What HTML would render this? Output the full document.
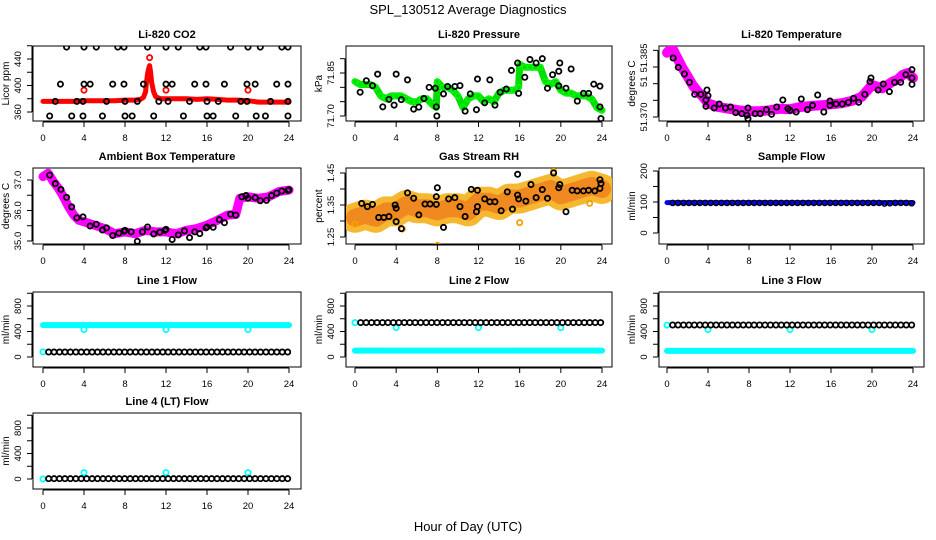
<!DOCTYPE html>
<html><head><meta charset="utf-8">
<style>
html,body{margin:0;padding:0;background:#fff;}
svg{display:block;font-family:"Liberation Sans",Arial,sans-serif;}
</style></head>
<body>
<svg id="chart" width="936" height="540" viewBox="0 0 936 540" xmlns="http://www.w3.org/2000/svg">
<rect x="0" y="0" width="936" height="540" fill="#fff"/>
<text x="468" y="14" text-anchor="middle" font-size="13">SPL_130512  Average Diagnostics</text>
<text x="468" y="531" text-anchor="middle" font-size="13">Hour of Day (UTC)</text>
</svg>
<script>
// ---- data ----
const hourTicks = [0,4,8,12,16,20,24];
// CO2
const co2T = [0,1,2,3,4,5,6,7,8,9,9.5,9.8,10,10.1,10.2,10.3,10.4,10.5,10.6,10.8,11,11.5,12,13,14,15,16,17,18,19,20,21,22,23,24];
const co2V = [376,376,376,376,377,377,377,377,378,378,379,382,390,405,418,425,430,420,405,390,383,380,380,380,380,379,380,379,378,378,377,375,375,375,375];
const co2OutT = [4,12,20,10.4];
const co2OutV = [393,393,393,442];
const co2BlkT = [2.3,4.0,5.2,7.3,7.9,10.2,12.0,13.2,15.3,15.9,18.3,20.0,21.2,23.3,23.9, 1.7,4.0,4.6,6.8,7.9,9.8,12.0,12.6,14.8,15.9,17.7,19.9,20.7,22.8,23.9, 0.65,2.8,3.9,5.8,8.0,8.7,10.8,13.7,16.0,16.6,18.8,20.8,21.7,23.9, 1.2,3.3,3.9,6.2,8.0,9.2,11.3,12.2,14.3,16.0,17.1,19.3,19.9,22.2,23.9];
const co2BlkV = [458,458,458,458,458,458,458,458,458,458,458,458,458,458,458, 402,402,402,402,402,402,402,402,402,402,402,402,402,402,402, 354,354,354,354,354,354,354,354,354,354,354,354,354,354, 376,376,376,376,376,376,376,376,376,376,376,376,376,376,376];
// Pressure
const prT = [0,0.5,1,1.5,2,2.5,3,3.5,4,4.5,5,5.5,6,6.5,7,7.5,7.9,8,8.5,9,9.5,10,10.5,11,11.5,12,12.5,13,13.5,14,14.5,15,15.5,15.9,16,16.5,17,17.5,18,18.5,19,19.5,20,20.5,21,21.5,22,22.5,23,23.5,24];
const prV = [71.82,71.81,71.81,71.81,71.80,71.77,71.76,71.77,71.77,71.77,71.76,71.75,71.75,71.76,71.76,71.74,71.73,71.82,71.80,71.80,71.79,71.77,71.73,71.76,71.77,71.77,71.75,71.76,71.75,71.78,71.79,71.79,71.79,71.80,71.88,71.87,71.87,71.87,71.87,71.82,71.81,71.82,71.79,71.78,71.78,71.77,71.77,71.77,71.76,71.73,71.72];
const prBlkT = [0.5,1.1,1.7,2.2,2.7,3.3,3.8,4.0,4.5,5.1,5.7,6.2,6.7,7.2,7.8,7.9,7.95,8.6,9.0,9.7,10.2,10.7,11.2,11.8,11.9,12.6,13.1,13.6,14.1,14.7,15.2,15.8,15.9,16.5,17.0,17.6,18.2,18.7,19.2,19.8,19.8,19.9,20.5,21.0,21.6,22.2,22.7,23.2,23.8,23.8,23.9];
const prBlkV = [71.783,71.823,71.806,71.846,71.732,71.758,71.738,71.846,71.757,71.826,71.724,71.731,71.761,71.800,71.797,71.732,71.700,71.777,71.803,71.803,71.806,71.717,71.777,71.722,71.829,71.746,71.826,71.738,71.783,71.794,71.859,71.885,71.779,71.835,71.897,71.885,71.900,71.797,71.844,71.856,71.805,71.885,71.797,71.864,71.752,71.779,71.779,71.811,71.804,71.732,71.691];
// Li-820 temperature
const ltT = [0,0.5,1,1.5,2,2.5,3,3.5,4,5,6,7,8,9,10,11,12,13,14,15,16,17,18,19,20,21,22,22.5,23,23.5,24];
const ltV = [51.3893,51.3908,51.3877,51.3847,51.3822,51.3796,51.3776,51.3761,51.3741,51.3730,51.3725,51.3720,51.3717,51.3717,51.3720,51.3725,51.3723,51.3730,51.3733,51.3735,51.3738,51.3741,51.3748,51.3761,51.3796,51.3786,51.3806,51.3812,51.3827,51.3832,51.3817];
const ltBlkT = [0.6,1.1,1.7,2.2,2.7,3.3,3.8,3.8,4.0,3.9,4.6,5.1,5.7,6.2,6.7,7.3,7.8,7.9,7.9,8.6,9.1,9.7,10.2,10.7,11.3,11.8,12.0,12.6,13.1,13.7,14.2,14.7,15.3,15.9,15.9,16.5,17.1,17.7,18.2,18.7,19.3,19.8,19.9,20.6,21.1,21.7,22.2,22.8,23.3,23.9,23.9,23.9];
const ltBlkV = [51.3877,51.3849,51.3829,51.3804,51.3768,51.3768,51.3732,51.3751,51.3764,51.3781,51.3727,51.3739,51.3727,51.3730,51.3713,51.3710,51.3705,51.3695,51.3727,51.3710,51.3710,51.3722,51.3708,51.3730,51.3751,51.3725,51.3720,51.3715,51.3754,51.3722,51.3735,51.3766,51.3715,51.3735,51.3748,51.3739,51.3739,51.3744,51.3756,51.3744,51.3768,51.3806,51.3817,51.3781,51.3799,51.3776,51.3804,51.3804,51.3827,51.3842,51.3798,51.3817];
// Ambient box temperature
const abT = [0,0.5,1,1.5,2,2.5,3,3.5,4,5,6,7,8,9,10,11,12,13,14,15,16,17,18,18.8,19.2,20,21,22,23,24];
const abV = [37.11,37.22,36.95,36.73,36.45,36.12,35.85,35.68,35.63,35.52,35.41,35.24,35.30,35.24,35.35,35.30,35.30,35.24,35.35,35.41,35.52,35.68,35.85,35.87,36.40,36.45,36.40,36.45,36.62,36.67];
const abBlkT = [0.65,1.2,1.75,2.3,2.8,3.3,3.9,4.6,5.2,5.8,6.2,6.8,7.4,7.9,8.0,8.6,9.2,9.7,10.2,10.8,11.4,11.9,12.0,12.6,13.2,13.8,14.3,14.8,15.3,15.9,16.0,16.6,17.2,17.7,18.3,18.8,19.4,19.8,20.0,20.7,21.2,21.8,22.3,22.8,23.3,23.9,24.0];
const abBlkV = [37.16,36.88,36.69,36.43,36.12,35.76,35.79,35.49,35.55,35.36,35.43,35.18,35.26,35.32,35.35,35.30,34.99,35.30,35.46,35.23,35.29,35.35,35.38,35.05,35.20,35.33,35.11,35.30,35.24,35.43,35.46,35.45,35.70,35.60,35.88,35.85,36.45,36.49,36.40,36.42,36.32,36.33,36.49,36.57,36.64,36.66,36.68];
// Gas stream RH
const rhT = [0,1,2,3,4,5,6,7,8,9,10,11,12,13,14,15,16,17,18,19,20,21,22,23,24];
const rhV = [1.31,1.32,1.31,1.33,1.33,1.35,1.34,1.34,1.33,1.34,1.34,1.33,1.36,1.36,1.35,1.37,1.37,1.38,1.39,1.40,1.38,1.39,1.40,1.41,1.40];
const rhOutT = [8.0,16.0,19.3,22.8,0.0,4.6];
const rhOutV = [1.224,1.295,1.455,1.355,1.290,1.275];
const rhBlkT = [0.65,1.2,1.7,2.3,2.8,3.3,3.9,4.0,4.0,4.5,5.1,5.7,6.2,6.8,7.3,7.9,7.9,8.0,8.6,9.1,9.7,10.2,10.7,11.3,11.8,11.9,11.9,12.6,13.1,13.6,14.2,14.8,15.3,15.8,15.8,15.9,16.6,17.1,17.6,18.2,18.7,19.3,19.8,19.9,20.5,21.1,21.6,22.2,22.7,23.3,23.8,23.8,23.9];
const rhBlkV = [1.355,1.345,1.352,1.311,1.311,1.314,1.350,1.298,1.340,1.276,1.388,1.371,1.319,1.353,1.353,1.376,1.352,1.404,1.280,1.369,1.373,1.345,1.314,1.399,1.329,1.345,1.396,1.369,1.360,1.360,1.332,1.391,1.337,1.446,1.381,1.369,1.362,1.414,1.373,1.398,1.371,1.450,1.404,1.414,1.329,1.396,1.394,1.394,1.396,1.394,1.429,1.402,1.417];
// Flows (regular sampling grid of hours)
const flowT = [0.55,1.08,1.61,2.14,2.67,3.2,3.73,4.26,4.79,5.32,5.85,6.38,6.91,7.44,7.97,8.5,9.03,9.56,10.09,10.62,11.15,11.68,12.21,12.74,13.27,13.8,14.33,14.86,15.39,15.92,16.45,16.98,17.51,18.04,18.57,19.1,19.63,20.16,20.69,21.22,21.75,22.28,22.81,23.34,23.87];
const sampleFlowV = [97,97,97,97,97,97,97,97,97,97,97,97,97,97,97,97,97,97,97,97,97,97,97,97,97,97,97,97,97,97,97,97,97,97,97,97,97,97,97,95,96,97,97,97,96];
const line1BlkV = [78,78,78,78,78,78,78,78,78,78,78,78,78,78,78,78,78,78,78,78,78,78,78,78,78,78,78,78,78,78,78,78,78,78,78,78,78,78,78,78,78,78,78,78,78];
const line2BlkV = [540,540,540,540,540,540,540,540,540,540,540,540,540,540,540,540,540,540,540,540,540,540,540,540,540,540,540,540,540,540,540,540,540,540,540,540,540,540,540,540,540,540,540,540,540];
const line3BlkV = [502,502,502,502,502,502,502,502,502,502,502,502,502,502,502,502,502,502,502,502,502,502,502,502,502,502,502,502,502,502,502,502,502,502,502,502,502,502,502,502,502,502,502,502,502];
const line4BlkV = [5,5,5,5,5,5,5,5,5,5,5,5,5,5,5,5,5,5,5,5,5,5,5,5,5,5,5,5,5,5,5,5,5,5,5,5,5,5,5,5,5,5,5,5,5];
const bandT = [0,24];
const sampleBandV = [98,98];
const line1CyanV = [500,500];
const line2CyanV = [100,100];
const line3CyanV = [95,95];
const flowOutT = [4,12,20];
const line1OutV = [430,430,430];
const line2OutV = [460,460,460];
const line3OutV = [430,430,430];
const line4OutV = [100,100,100];
const startT = [0];
const line1StartV = [80];
const line2StartV = [540];
const line3StartV = [500];
const line4StartV = [0];

const NS = "http://www.w3.org/2000/svg";
const svg = document.getElementById('chart');
function mk(tag, attrs, parent){
  const e = document.createElementNS(NS, tag);
  for (const k in attrs) e.setAttribute(k, attrs[k]);
  (parent||svg).appendChild(e);
  return e;
}
const cols = [{L:33,R:301,x0:43,x24:289},{L:346,R:612,x0:355,x24:602},{L:659,R:924,x0:667,x24:913}];
const rows = [{T:46,B:121},{T:168,B:244},{T:292,B:367},{T:413,B:489}];

function panel(name, ci, ri, title, ylab, v0, p0, v1, p1, ticks, labels){
  const c = cols[ci], r = rows[ri];
  const g = mk('g', {});
  
  
  const xs = t => c.x0 + (c.x24 - c.x0) * t / 24;
  const ys = v => p0 + (p1 - p0) * (v - v0) / (v1 - v0);
  const box = mk('rect', {x:c.L, y:r.T, width:c.R-c.L, height:r.B-r.T, fill:'none', stroke:'#000', 'stroke-width':1}, g);
  
  
  const tt = mk('text', {x:(c.L+c.R)/2, y:r.T-8, 'text-anchor':'middle', 'font-size':11, 'font-weight':'bold'}, g);
  tt.textContent = title;
  
  
  const xa = mk('g', {}, g);
  
  
  mk('line', {x1:xs(0), x2:xs(24), y1:r.B+1, y2:r.B+1, stroke:'#000'}, xa);
  hourTicks.forEach(h => {
    mk('line', {x1:xs(h), x2:xs(h), y1:r.B+1, y2:r.B+6, stroke:'#000'}, xa);
    const tl = mk('text', {x:xs(h), y:r.B+20, 'text-anchor':'middle', 'font-size':9.5}, xa);
    tl.textContent = h;
  });
  const ya = mk('g', {}, g);
  
  
  mk('line', {x1:c.L-1, x2:c.L-1, y1:ys(ticks[0]), y2:ys(ticks[ticks.length-1]), stroke:'#000'}, ya);
  ticks.forEach(v => mk('line', {x1:c.L-6, x2:c.L-1, y1:ys(v), y2:ys(v), stroke:'#000'}, ya));
  labels.forEach(([v, s, dy]) => {
    const lx = c.L-12, ly = ys(v) + (dy||0);
    const tl = mk('text', {x:lx, y:ly, 'text-anchor':'middle', 'font-size':9.5, transform:`rotate(-90 ${lx} ${ly})`}, ya);
    tl.textContent = s;
  });
  const yl = mk('text', {x:c.L-24, y:(r.T+r.B)/2, 'text-anchor':'middle', 'font-size':10, transform:`rotate(-90 ${c.L-24} ${(r.T+r.B)/2})`}, g);
  yl.textContent = ylab;
  
  
  const clip = 'clip-' + name;
  const cp = mk('clipPath', {id:clip}, g);
  mk('rect', {x:c.L, y:r.T, width:c.R-c.L, height:r.B-r.T}, cp);
  const plot = mk('g', {'clip-path':`url(#${clip})`}, g);
  return {xs, ys, g:plot};
}
function band(p, T, V, color, w, nm){
  const pts = T.map((t,i)=>p.xs(t).toFixed(1)+','+p.ys(V[i]).toFixed(1)).join(' ');
  const pl = mk('polyline', {points:pts, fill:'none', stroke:color, 'stroke-width':w, 'stroke-linejoin':'round', 'stroke-linecap':'round'}, p.g);
  
  
}
function pts(p, T, V, color, nm, r, sw){
  const gg = mk('g', {}, p.g);
  
  
  T.forEach((t,i)=>{
    mk('circle', {cx:p.xs(t), cy:p.ys(V[i]), r:r||2.6, fill:'none', stroke:color, 'stroke-width':sw||1.8}, gg);
  });
}

let p = panel('co2', 0, 0, 'Li-820 CO2', 'Licor ppm', 360, 112, 440, 59, [360,380,400,420,440,460], [[360,'360'],[400,'400'],[440,'440']]);
band(p, co2T, co2V, '#ff0000', 5, 'co2-series');
pts(p, co2OutT, co2OutV, '#ff0000', 'co2-outliers');
pts(p, co2BlkT, co2BlkV, '#000', 'co2-average-points');

p = panel('pressure', 1, 0, 'Li-820 Pressure', 'kPa', 71.70, 116, 71.85, 73, [71.70,71.75,71.80,71.85,71.90], [[71.70,'71.70'],[71.85,'71.85']]);
band(p, prT, prV, '#00dd00', 7, 'pressure-series');
pts(p, prT, prV, '#00ff00', 'pressure-points', 2.6, 1.2);
pts(p, prBlkT, prBlkV, '#000', 'pressure-average-points');

p = panel('li-temp', 2, 0, 'Li-820 Temperature', 'degrees C', 51.370, 117, 51.385, 67, [51.370,51.375,51.380,51.385,51.390], [[51.370,'51.370'],[51.380,'51',-2],[51.385,'51.385',-9]]);
band(p, ltT, ltV, '#ff00ff', 10, 'li-temp-series');
pts(p, ltT, ltV, '#ff00ff', 'li-temp-points', 3, 1.4);
pts(p, ltBlkT, ltBlkV, '#000', 'li-temp-average-points');

p = panel('ambient-temp', 0, 1, 'Ambient Box Temperature', 'degrees C', 35.0, 241, 37.0, 180, [35.0,35.5,36.0,36.5,37.0], [[35.0,'35.0'],[36.0,'36.0'],[37.0,'37.0']]);
band(p, abT, abV, '#ff00ff', 9, 'ambient-temp-series');
pts(p, abBlkT, abBlkV, '#000', 'ambient-temp-average-points');

p = panel('gas-rh', 1, 1, 'Gas Stream RH', 'percent', 1.25, 237, 1.45, 173, [1.25,1.30,1.35,1.40,1.45], [[1.25,'1.25'],[1.35,'1.35'],[1.45,'1.45']]);
band(p, rhT, rhV, '#f6b830', 30, 'gas-rh-series');
band(p, rhT, rhV, '#f08a20', 18, 'gas-rh-core');
pts(p, rhOutT, rhOutV, '#f5a000', 'gas-rh-outliers');
pts(p, rhBlkT, rhBlkV, '#000', 'gas-rh-average-points');

p = panel('sample-flow', 2, 1, 'Sample Flow', 'ml/min', 0, 233, 200, 171, [0,50,100,150,200], [[0,'0'],[100,'100'],[200,'200']]);
band(p, bandT, sampleBandV, '#0000ff', 5, 'sample-flow-series');
pts(p, flowT, sampleFlowV, '#000', 'sample-flow-average-points', 2.6, 1.4);

const flowTicks = [0,200,400,600,800,1000];
const flowLabels = [[0,'0'],[400,'400'],[800,'800']];
p = panel('line1-flow', 0, 2, 'Line 1 Flow', 'ml/min', 0, 357, 800, 306, flowTicks, flowLabels);
band(p, bandT, line1CyanV, '#00ffff', 6, 'line1-cyan-series');
pts(p, flowOutT, line1OutV, '#00ffff', 'line1-cyan-outliers');
pts(p, startT, line1StartV, '#00ffff', 'line1-cyan-start');
pts(p, flowT, line1BlkV, '#000', 'line1-average-points');
p = panel('line2-flow', 1, 2, 'Line 2 Flow', 'ml/min', 0, 357, 800, 306, flowTicks, flowLabels);
band(p, bandT, line2CyanV, '#00ffff', 6, 'line2-cyan-series');
pts(p, flowOutT, line2OutV, '#00ffff', 'line2-cyan-outliers');
pts(p, startT, line2StartV, '#00ffff', 'line2-cyan-start');
pts(p, flowT, line2BlkV, '#000', 'line2-average-points');
p = panel('line3-flow', 2, 2, 'Line 3 Flow', 'ml/min', 0, 357, 800, 306, flowTicks, flowLabels);
band(p, bandT, line3CyanV, '#00ffff', 6, 'line3-cyan-series');
pts(p, flowOutT, line3OutV, '#00ffff', 'line3-cyan-outliers');
pts(p, startT, line3StartV, '#00ffff', 'line3-cyan-start');
pts(p, flowT, line3BlkV, '#000', 'line3-average-points');
p = panel('line4-flow', 0, 3, 'Line 4 (LT) Flow', 'ml/min', 0, 479, 800, 428, flowTicks, flowLabels);
pts(p, flowOutT, line4OutV, '#00ffff', 'line4-cyan-outliers');
pts(p, startT, line4StartV, '#00ffff', 'line4-cyan-start');
pts(p, flowT, line4BlkV, '#000', 'line4-average-points');
</script>
</body></html>
